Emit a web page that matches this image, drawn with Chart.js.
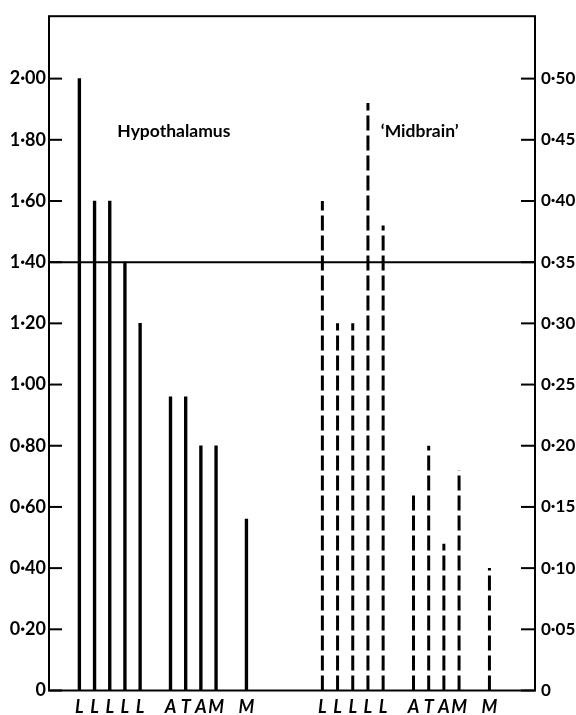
<!DOCTYPE html>
<html>
<head>
<meta charset="utf-8">
<script src="https://cdn.jsdelivr.net/npm/chart.js@4.4.0/dist/chart.umd.min.js"></script>
<style>
  body { margin: 0; background: #fff; }
  #wrap { width: 576px; height: 715px; position: relative; }
</style>
</head>
<body>
<div id="wrap"><canvas id="chart"></canvas></div>
<script>
// data
const categories = ['L', 'L', 'L', 'L', 'L', 'A', 'T', 'A', 'M', 'M'];
const groupSizes = [5, 4, 1]; // L block, A T A M block, lone M
const hypothalamus = [2.00, 1.60, 1.60, 1.40, 1.20, 0.96, 0.96, 0.80, 0.80, 0.56];
const midbrain = [0.40, 0.30, 0.30, 0.48, 0.38, 0.16, 0.20, 0.12, 0.18, 0.10];
const leftTicks = [0, 0.2, 0.4, 0.6, 0.8, 1.0, 1.2, 1.4, 1.6, 1.8, 2.0];
const rightTicks = [0, 0.05, 0.10, 0.15, 0.20, 0.25, 0.30, 0.35, 0.40, 0.45, 0.50];
const referenceLevel = 1.40;

// slot layout: one empty slot between groups, four between the two panels
function buildSlots(start) {
  const slots = [];
  let pos = start;
  groupSizes.forEach(n => {
    for (let i = 0; i < n; i++) slots.push(pos++);
    pos++;
  });
  return slots;
}
const hypoSlots = buildSlots(0);
const midSlots = buildSlots(16);
const slotLabel = {};
hypoSlots.forEach((s, i) => slotLabel[s] = categories[i]);
midSlots.forEach((s, i) => slotLabel[s] = categories[i]);

function fmt(v) {
  return v === 0 ? '0' : v.toFixed(2).replace('.', '\u00b7');
}

const ink = '#000';
const labelFont = "Lato, 'DejaVu Sans', sans-serif";

const framePlugin = {
  id: 'frame',
  afterDraw(chart) {
    const ctx = chart.ctx;
    const a = chart.chartArea;
    const y = chart.scales.y, y2 = chart.scales.y2, x = chart.scales.x;
    ctx.save();
    ctx.strokeStyle = ink;
    ctx.lineWidth = 2;
    ctx.strokeRect(a.left, a.top, a.right - a.left, a.bottom - a.top);
    // inward tick marks
    leftTicks.forEach(v => {
      const p = y.getPixelForValue(v);
      ctx.beginPath(); ctx.moveTo(a.left, p); ctx.lineTo(a.left + 13, p); ctx.stroke();
    });
    rightTicks.forEach(v => {
      const p = y2.getPixelForValue(v);
      ctx.beginPath(); ctx.moveTo(a.right - 14, p); ctx.lineTo(a.right, p); ctx.stroke();
    });
    // panel titles
    ctx.fillStyle = ink;
    ctx.font = 'bold 17.5px ' + labelFont;
    ctx.textAlign = 'left';
    ctx.textBaseline = 'alphabetic';
    ctx.fillText('Hypothalamus', x.getPixelForValue(2.5), y.getPixelForValue(1.81));
    ctx.fillText('\u2018Midbrain\u2019', x.getPixelForValue(19.85), y.getPixelForValue(1.81));
    ctx.restore();
  }
};

const ctx = document.getElementById('chart').getContext('2d');
const chart = new Chart(ctx, {
  data: {
    datasets: [
      {
        type: 'bar',
        label: 'Hypothalamus',
        data: hypoSlots.map((s, i) => ({ x: s, y: hypothalamus[i] })),
        backgroundColor: ink,
        barThickness: 2.7,
        yAxisID: 'y'
      },
      {
        type: 'line',
        label: 'Midbrain',
        data: midSlots.flatMap((s, i) => [{ x: s, y: 0 }, { x: s, y: midbrain[i] }, { x: s, y: null }]),
        borderColor: ink,
        borderWidth: 3,
        borderDash: [15, 5],
        borderCapStyle: 'butt',
        pointRadius: 0,
        spanGaps: false,
        yAxisID: 'y2'
      },
      {
        type: 'line',
        label: 'level',
        data: [{ x: -2, y: referenceLevel }, { x: 30, y: referenceLevel }],
        borderColor: ink,
        borderWidth: 2,
        pointRadius: 0,
        yAxisID: 'y'
      }
    ]
  },
  options: {
    responsive: true,
    maintainAspectRatio: false,
    animation: false,
    devicePixelRatio: 1,
    layout: { padding: { top: 12, left: 0, right: 0, bottom: 0 } },
    plugins: { legend: { display: false }, tooltip: { enabled: false } },
    scales: {
      x: {
        type: 'linear',
        offset: false,
        min: -2,
        max: 30,
        grid: { display: false, drawTicks: false, offset: false },
        border: { display: false },
        afterBuildTicks: axis => {
          axis.ticks = hypoSlots.concat(midSlots).map(v => ({ value: v }));
        },
        afterFit: axis => { axis.height = 24.5; },
        ticks: {
          autoSkip: false,
          maxRotation: 0,
          padding: 6,
          color: ink,
          font: { family: labelFont, size: 18, style: 'italic', weight: 'bold' },
          callback: v => slotLabel[v] || ''
        }
      },
      y: {
        position: 'left',
        min: 0,
        max: 2.204,
        grid: { display: false, drawTicks: false },
        border: { display: false },
        afterBuildTicks: axis => { axis.ticks = leftTicks.map(v => ({ value: v })); },
        afterFit: axis => { axis.width = 49; },
        ticks: {
          padding: 3,
          color: ink,
          font: { family: labelFont, size: 18, weight: 'bold' },
          callback: v => fmt(v)
        }
      },
      y2: {
        position: 'right',
        min: 0,
        max: 0.551,
        grid: { display: false, drawTicks: false },
        border: { display: false },
        afterBuildTicks: axis => { axis.ticks = rightTicks.map(v => ({ value: v })); },
        afterFit: axis => { axis.width = 41; },
        ticks: {
          padding: 6,
          color: ink,
          font: { family: labelFont, size: 17, weight: 'bold' },
          callback: v => fmt(v)
        }
      }
    }
  },
  plugins: [framePlugin]
});
</script>
</body>
</html>
